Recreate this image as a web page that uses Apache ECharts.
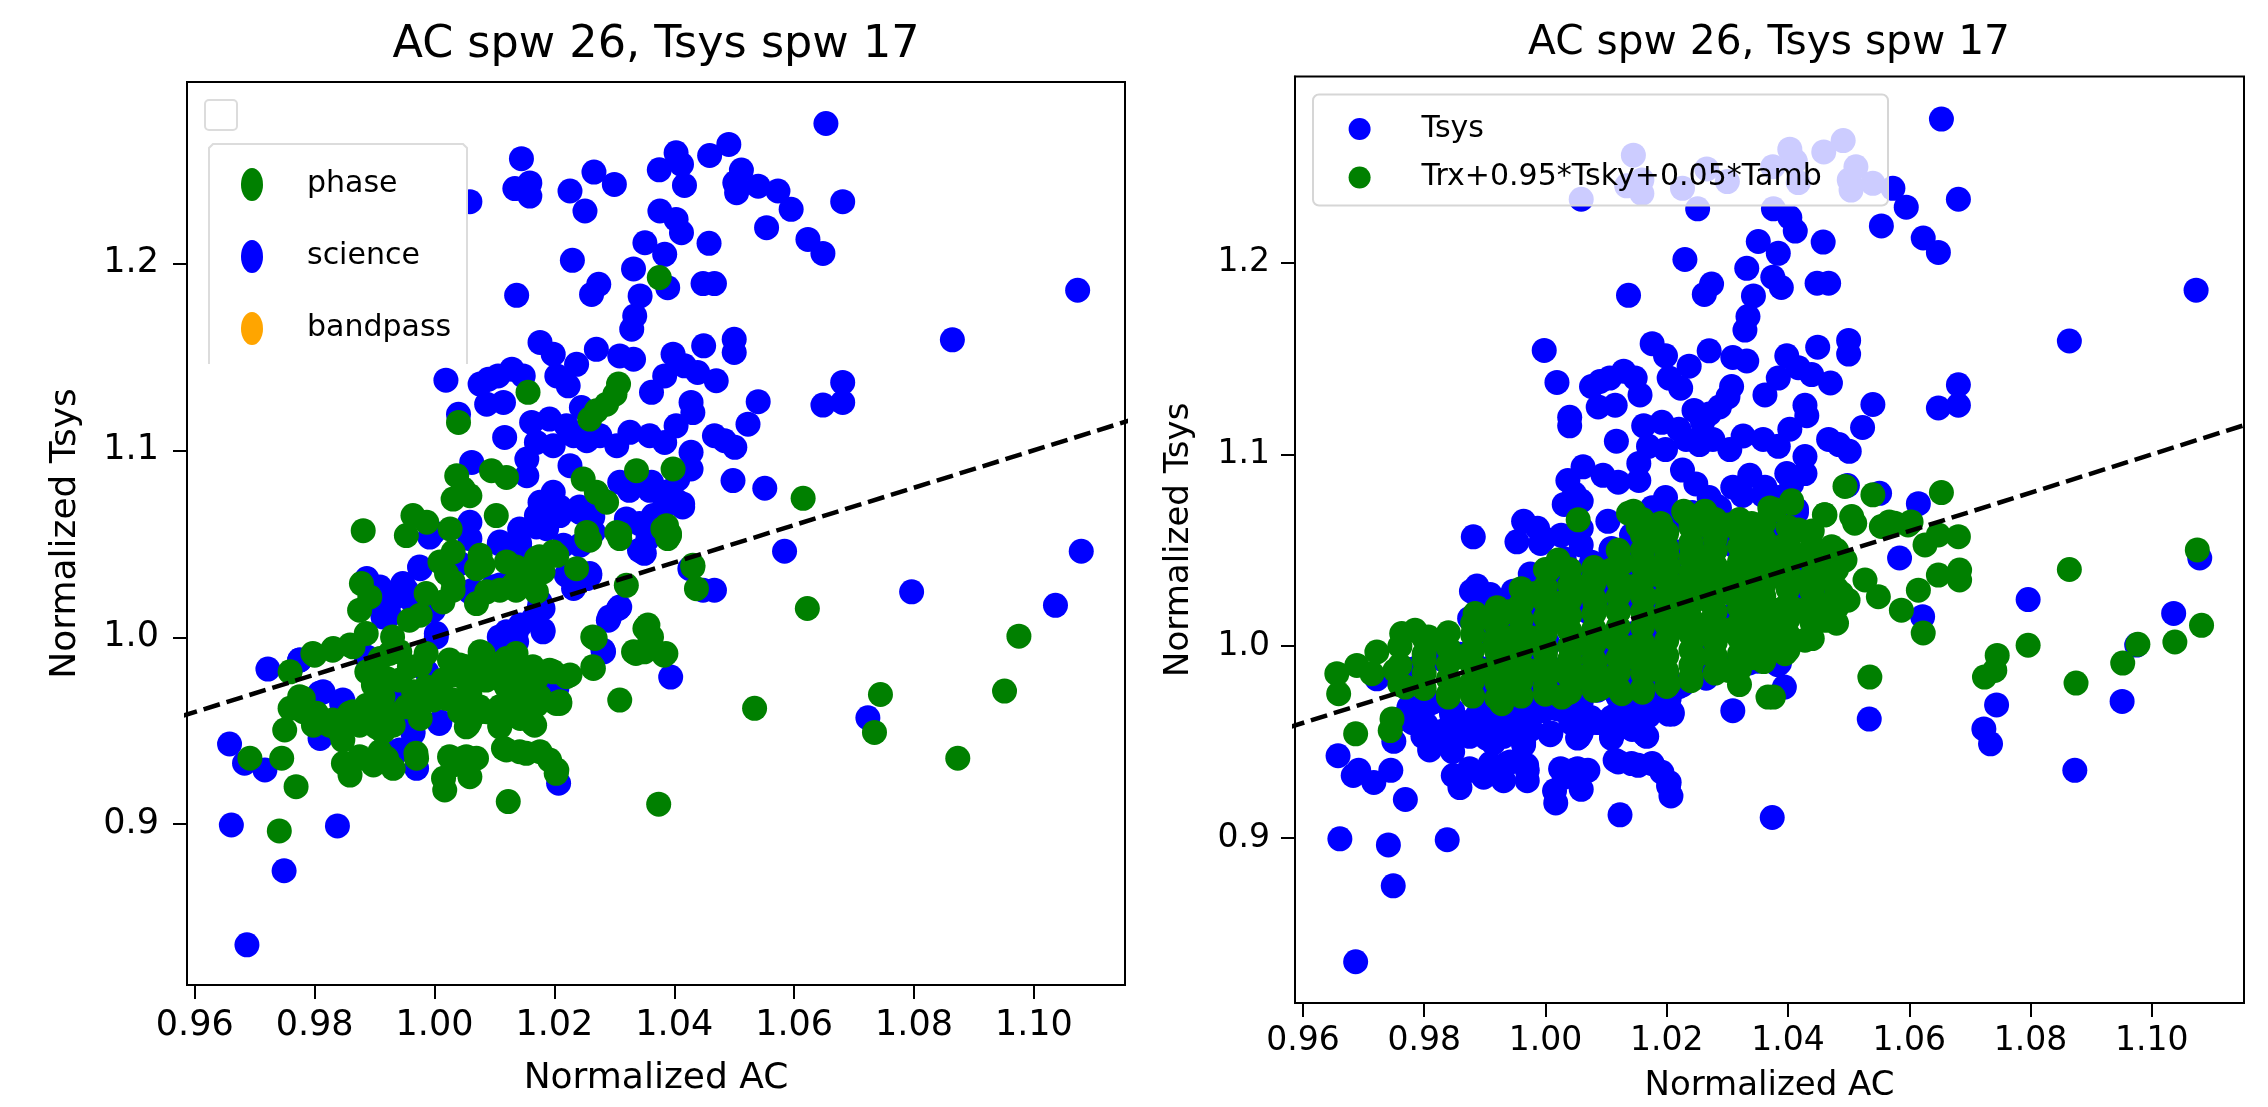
<!DOCTYPE html>
<html><head><meta charset="utf-8">
<script src="https://cdn.jsdelivr.net/npm/echarts@6/dist/echarts.min.js"></script>
<style>html,body{margin:0;padding:0;background:#fff}#c{width:2268px;height:1107px}</style>
</head><body><div id="c"></div>
<script>
const titleText = 'AC spw 26, Tsys spw 17';
const xLabel = 'Normalized AC';
const yLabel = 'Normalized Tsys';
const xTicks = [0.96, 0.98, 1.00, 1.02, 1.04, 1.06, 1.08, 1.10];
const yTicks = [0.9, 1.0, 1.1, 1.2];
const unityLine = [0.95, 1.12];

// left panel: science (blue)
const sciencePts = [
[1.0145,1.2560],[1.0134,1.2400],[1.0159,1.2430],[1.0159,1.2360],[1.0059,1.2330],[1.0226,1.2387],[1.0266,1.2488],[1.0251,1.2280],[1.0300,1.2422],[1.0375,1.2500],[1.0376,1.2280],[1.0351,1.2110],[1.0230,1.2016],[1.0332,1.1970],[1.0274,1.1888],[1.0262,1.1834],[1.0137,1.1829],[1.0343,1.1826],[1.0334,1.1719],[1.0329,1.1648],[1.0176,1.1577],[1.0198,1.1514],[1.0270,1.1540],[1.0309,1.1505],[1.0332,1.1487],[1.0237,1.1460],[1.0204,1.1398],[1.0223,1.1345],[1.0019,1.1375],[1.0076,1.1354],[1.0090,1.1380],[1.0106,1.1398],[1.0129,1.1434],[1.0148,1.1398],[1.0087,1.1247],[1.0115,1.1256],[1.0245,1.1229],[1.0040,1.1193],[1.0117,1.1069],[1.0162,1.1149],[1.0192,1.1167],[1.0220,1.1131],[1.0232,1.1078],[1.0170,1.1042],[1.0198,1.1025],[1.0254,1.1051],[1.0276,1.1078],[1.0304,1.1025],[1.0326,1.1096],[1.0359,1.1078],[1.0154,1.0953],[1.0154,1.0864],[1.0062,1.0935],[1.0226,1.0918],[1.0198,1.0775],[1.0176,1.0722],[1.0209,1.0651],[1.0243,1.0668],[1.0309,1.0829],[1.0320,1.0633],[1.0365,1.0651],[1.0059,1.0615],[0.9998,1.0561],[1.0142,1.0579],[1.0170,1.0651],
[1.0653,1.2748],[1.0491,1.2636],[1.0459,1.2577],[1.0403,1.2591],[1.0412,1.2529],[1.0417,1.2417],[1.0512,1.2499],[1.0501,1.2431],[1.0504,1.2378],[1.0540,1.2413],[1.0573,1.2387],[1.0595,1.2289],[1.0681,1.2330],[1.0403,1.2235],[1.0412,1.2164],[1.0554,1.2191],[1.0623,1.2128],[1.0648,1.2053],[1.0458,1.2107],[1.0384,1.2048],[1.0389,1.1870],[1.0448,1.1892],[1.0467,1.1892],[1.1073,1.1856],[1.0864,1.1591],[1.0449,1.1559],[1.0500,1.1594],[1.0500,1.1523],[1.0398,1.1514],[1.0417,1.1452],[1.0439,1.1416],[1.0470,1.1372],[1.0384,1.1398],[1.0681,1.1363],[1.0681,1.1256],[1.0648,1.1242],[1.0540,1.1260],[1.0362,1.1310],[1.0428,1.1256],[1.0431,1.1202],[1.0523,1.1140],[1.0403,1.1131],[1.0384,1.1042],[1.0467,1.1078],[1.0484,1.1051],[1.0501,1.1016],[1.0428,1.0989],[1.0428,1.0900],[1.0406,1.0846],[1.0498,1.0838],[1.0551,1.0797],[1.0362,1.0829],[1.0384,1.0775],[1.0414,1.0713],[1.0384,1.0704],
[1.0584,1.0460],[1.1079,1.0460],[1.0796,1.0243],[1.1036,1.0171],[1.0723,0.9569],[1.0394,0.9787],[1.0448,1.0252],[1.0467,1.0252],[1.0426,1.0367],[1.0350,1.0449],[1.0356,1.0528],
[0.9687,0.8355],[0.9749,0.8751],[0.9661,0.8996],[0.9838,0.8991],[1.0207,0.9219],[0.9658,0.9429],[0.9683,0.9326],[0.9717,0.9290],[0.9937,0.9388],[0.9970,0.9299],[1.0009,0.9548],[0.9964,0.9495],[0.9809,0.9459],[1.0282,0.9922],[1.0290,1.0091],[1.0307,1.0154],[1.0181,1.0029],[1.0181,1.0154],[1.0254,1.0314],[1.0232,1.0261],[0.9722,0.9830],[0.9775,0.9878],[0.9814,0.9708],[0.9845,0.9646],[0.9887,1.0314],[0.9909,1.0269],[0.9925,1.0118],[0.9931,1.0207],[0.9953,1.0252],[0.9964,1.0189],[0.9976,1.0367],[0.9992,1.0536],[1.0059,1.0528],[1.0109,1.0510],[1.0142,1.0483],[1.0187,1.0581],[1.0243,1.0492],[1.0259,1.0332],[1.0220,1.0332],[0.9948,1.0252],[0.9998,1.0145],[1.0003,1.0002],[1.0059,1.0243],[1.0109,1.0279],[1.0120,1.0029],[1.0137,0.9976],[1.0143,1.0065],[1.0115,0.9940],[0.9987,0.9815],[0.9931,0.9673],[0.9942,0.9548],[0.9914,1.0109],[1.0176,1.0189],[1.0165,1.0100],[1.0204,0.9726],[1.0215,1.0492],[1.0265,1.0563],
[0.9998,1.1542],
[1.0108,1.0501],[1.0142,1.0501],[1.0170,1.0590],[1.0181,1.0661],[1.0209,1.0697],[1.0242,1.0697],[1.0264,1.0643],[1.0281,1.0732],[1.0325,1.0786],[1.0359,1.0786],[1.0403,1.0732],[1.0414,1.0697],[1.0342,1.0608],[1.0342,1.0465],
[0.9975,1.0376],[0.9942,1.0234],[0.9914,1.0127],[0.9947,1.0287],[1.0042,1.0394],[1.0064,1.0252],[1.0097,1.0269],[1.0131,1.0341],[0.9997,1.0145],[1.0003,1.0020],[1.0108,1.0002],[1.0136,1.0020],[1.0175,1.0162],[1.0181,1.0038],[1.0236,1.0305],[1.0259,1.0341],[1.0292,1.0109],[1.0309,1.0162],[1.0281,0.9931],
[0.9808,0.9700],[0.9847,0.9664],[0.9925,0.9664],[0.9964,0.9486],[0.9942,0.9397],[1.0008,0.9539],[0.9775,0.9878],[0.9886,0.9896]
];

// left panel: phase (green)
const phasePts = [
[1.0375,1.1924],[1.0156,1.1310],[1.0307,1.1354],[1.0301,1.1300],[1.0287,1.1247],[1.0270,1.1211],[1.0259,1.1167],[1.0040,1.1149],[1.0037,1.0864],[1.0048,1.0793],[1.0059,1.0757],[1.0031,1.0739],[1.0095,1.0891],[1.0120,1.0855],[1.0248,1.0846],[1.0270,1.0775],[1.0287,1.0722],[1.0337,1.0891],[0.9881,1.0570],[0.9964,1.0651],[0.9987,1.0615],[0.9953,1.0544],[1.0026,1.0579],[1.0103,1.0651],[1.0304,1.0561],[1.0254,1.0561],
[1.0398,1.0900],[1.0615,1.0743],[1.0387,1.0597],[1.0392,1.0544],
[1.0622,1.0154],[1.0975,1.0006],[1.0951,0.9712],[1.0744,0.9694],[1.0734,0.9491],[1.0534,0.9620],[1.0873,0.9353],[1.0374,0.9107],[1.0383,0.9904],[1.0356,1.0065],[1.0362,1.0002],[1.0350,0.9922],[1.0437,1.0260],[1.0431,1.0385],[1.0389,1.0528],[1.0381,1.0581],
[0.9741,0.8964],[1.0123,0.9121],[1.0204,0.9290],[1.0017,0.9183],[1.0059,0.9254],[1.0070,0.9353],[1.0031,0.9317],[1.0048,0.9353],[1.0015,0.9246],[0.9769,0.9201],[0.9692,0.9353],[0.9745,0.9353],[0.9859,0.9263],[0.9848,0.9326],[0.9875,0.9353],[0.9898,0.9317],[0.9920,0.9353],[0.9931,0.9299],[0.9909,0.9388],[0.9970,0.9353],[1.0115,0.9406],[1.0142,0.9388],[1.0176,0.9388],[1.0109,0.9530],[1.0167,0.9530],[1.0209,0.9646],[1.0056,0.9530],[0.9750,0.9504],[0.9759,0.9620],[0.9781,0.9673],[0.9803,0.9566],[0.9825,0.9530],[0.9842,0.9495],[0.9875,0.9530],[0.9898,0.9584],[0.9914,0.9495],[1.0309,0.9664],[1.0265,0.9833],[1.0268,0.9994],[1.0332,0.9922],[1.0351,1.0047],[1.0320,1.0278],[0.9800,0.9904],[0.9831,0.9940],[0.9859,0.9958],[0.9759,0.9815],[0.9878,1.0287],[0.9875,1.0145],[0.9892,1.0216],[1.0009,1.0403],[1.0031,1.0456],[1.0081,1.0385],[1.0120,1.0403],[1.0170,1.0421],[1.0198,1.0456],[1.0254,1.0528],[1.0309,1.0528],
[0.9976,1.0118],[1.0014,1.0189],[1.0031,1.0296],[1.0070,1.0367],[1.0087,1.0243],[1.0131,1.0279],[1.0154,1.0332],[1.0170,1.0243],[1.0181,1.0350],[0.9942,0.9922],[0.9976,0.9851],[1.0009,0.9744],[1.0031,0.9798],[1.0059,0.9709],[1.0087,0.9833],[1.0115,0.9762],[1.0143,0.9833],[1.0170,0.9780],[1.0198,0.9815],[1.0226,0.9798],[1.0209,0.9655],[1.0170,0.9637],[1.0143,0.9673],[1.0115,0.9637],[1.0087,0.9602],[1.0059,0.9548],[0.9987,0.9673],[0.9965,0.9709],[0.9920,0.9780],[0.9898,0.9744],[0.9887,0.9637],[0.9864,0.9602],[0.9820,0.9548],[0.9798,0.9530],[0.9781,0.9602],[0.9920,0.9602],[0.9931,0.9530],[0.9976,0.9566],[1.0143,0.9566],[1.0076,0.9602],[1.0042,0.9602],[1.0020,0.9673],[1.0042,0.9851],[1.0076,0.9922],[1.0120,0.9886],[0.9909,0.9886],[0.9887,0.9815],[1.0237,1.0367],[1.0204,1.0438],[1.0076,1.0438],
[1.0020,1.0341],[0.9986,1.0234],[1.0031,1.0252],[1.0136,1.0376],[1.0175,1.0430],[1.0109,1.0252],[1.0136,1.0252],[1.0070,1.0180],[0.9958,1.0091],[0.9930,1.0002],
[0.9797,0.9913],[0.9830,0.9931],[0.9864,0.9949],[0.9886,1.0020],[0.9925,0.9913],[0.9958,0.9842],[0.9986,0.9913],[1.0025,0.9878],[1.0053,0.9842],[1.0081,0.9913],[1.0109,0.9860],[1.0136,0.9913],[1.0164,0.9842],[1.0192,0.9824],[1.0220,0.9789],[1.0264,0.9842],[1.0264,1.0002],[1.0353,1.0056],[1.0336,0.9913],[1.0386,0.9913],[1.0359,1.0002],[1.0392,1.0554],[1.0309,1.0554],[1.0431,1.0376],[1.0259,1.0519],
[0.9942,0.9771],[0.9986,0.9735],[1.0014,0.9771],[1.0053,0.9771],[1.0086,0.9771],[1.0120,0.9735],[1.0153,0.9771],[0.9914,0.9682],[0.9953,0.9628],[0.9997,0.9664],[1.0031,0.9664],[1.0075,0.9628],[1.0109,0.9628],[1.0142,0.9664],[1.0175,0.9682],[1.0203,0.9646],[1.0053,0.9521],[1.0109,0.9521],[1.0164,0.9539],
[0.9775,0.9682],[0.9803,0.9593],[0.9830,0.9557],[0.9858,0.9593],[0.9886,0.9611],[0.9903,0.9521],[0.9847,0.9450],[0.9875,0.9361],[0.9914,0.9343],[0.9969,0.9379],[1.0025,0.9361],[1.0053,0.9361],[1.0120,0.9397],[1.0153,0.9379],[1.0192,0.9343],[1.0203,0.9272]
];

const bandpassPts = [];

// right panel: model Trx+0.95*Tsky+0.05*Tamb (green)
const modelPts = [
[1.0494,1.0833],[1.0540,1.0789],[1.0653,1.0801],[1.0461,1.0685],[1.0505,1.0676],[1.0510,1.0641],[1.0554,1.0624],[1.0576,1.0641],[1.0598,1.0632],[1.0626,1.0528],[1.0648,1.0580],[1.0681,1.0571],[1.0648,1.0371],[1.0683,1.0397],[1.0683,1.0345],[1.0615,1.0292],[1.0587,1.0188],[1.0623,1.0069],[1.0549,1.0258],[1.0527,1.0345],[1.0499,1.0240],[1.0461,1.0135],[1.0428,1.0031],[1.0395,0.9961],[1.0376,0.9735],[1.0535,0.9839],[1.0864,1.0400],[1.1075,1.0502],[1.1082,1.0109],[1.1038,1.0022],[1.0977,1.0010],[1.0952,0.9912],[1.0875,0.9808],[1.0796,1.0005],[1.0745,0.9952],[1.0724,0.9839],[1.0741,0.9874],
[1.0378,1.0711],[1.0406,1.0746],[1.0417,1.0606],[1.0389,1.0519],[1.0433,1.0484],[1.0472,1.0519],[1.0494,1.0449],[1.0395,1.0345],[1.0433,1.0345],[1.0472,1.0345],[1.0384,1.0188],[1.0417,1.0188],[1.0450,1.0223],[1.0395,1.0083],[1.0373,1.0048],[1.0461,1.0414],[1.0488,1.0275],
[1.0145,1.0703],[1.0228,1.0703],[1.0263,1.0703],[1.0370,1.0721],[1.0406,1.0758],[1.0460,1.0685],[1.0567,1.0648],[1.0603,1.0648],
[0.9656,0.9857],[0.9659,0.9752],[0.9689,0.9900],[0.9722,0.9970],[0.9687,0.9543],[0.9747,0.9621],[0.9744,0.9560],[0.9763,1.0066],[0.9785,1.0083],[0.9807,1.0048],[0.9829,1.0031],[0.9714,0.9857],[0.9752,0.9874],[0.9769,0.9787],[0.9840,0.9735],[0.9873,0.9787],[0.9928,0.9700],[0.9895,0.9874],[0.9884,1.0170],[0.9917,1.0118],[0.9961,1.0223],[0.9983,1.0275],[1.0005,1.0397],[1.0021,1.0449],[1.0054,1.0659],[1.0137,1.0693],[1.0153,1.0624],[1.0181,1.0554],[1.0230,1.0693],[1.0263,1.0702],[1.0302,1.0632],[1.0241,1.0519],[1.0345,1.0554],[1.0368,1.0432],[1.0126,1.0432],[1.0164,1.0432],[1.0203,1.0414],[1.0000,0.9787],[1.0027,0.9735],[1.0065,0.9839],[1.0126,0.9752],[1.0203,0.9804],[1.0247,0.9944],[1.0367,0.9735],[1.0302,0.9874],
[0.9972,1.0048],[1.0027,1.0135],[1.0082,1.0223],[1.0137,1.0310],[1.0192,1.0362],[1.0247,1.0397],[1.0302,1.0362],[1.0356,1.0310],[0.9945,0.9961],[1.0000,0.9961],[1.0054,1.0013],[1.0109,1.0048],[1.0164,1.0135],[1.0219,1.0188],[1.0274,1.0223],[1.0329,1.0223],[1.0373,1.0170],[0.9972,0.9874],[1.0027,0.9874],[1.0082,0.9909],[1.0137,0.9944],[1.0192,0.9979],[1.0247,1.0048],[1.0302,1.0083],[1.0356,1.0083],[1.0054,1.0310],[1.0109,1.0397],[1.0164,1.0258],[1.0219,1.0310],[1.0274,1.0310],[1.0329,1.0397],[0.9862,0.9944],[0.9917,1.0013],[1.0082,0.9787],[1.0164,0.9874],[1.0274,1.0135],[1.0346,1.0013],
[1.0200,1.0480],[1.0280,1.0560],[1.0330,1.0480],[1.0190,1.0640],[1.0270,1.0620],[1.0340,1.0640],[0.9950,1.0050],[1.0040,1.0080],[1.0150,1.0000],[1.0220,1.0100],[1.0330,1.0120],[0.9850,0.9950],[0.9930,0.9900],[1.0040,0.9930],[1.0100,0.9830],[1.0180,0.9880],[1.0280,0.9950],[1.0340,0.9940],[0.9940,1.0180],[1.0030,1.0230],[1.0120,1.0180],[1.0200,1.0250],[1.0300,1.0280],[1.0360,1.0260],[1.0080,1.0360],[1.0180,1.0400],[1.0250,1.0450],[1.0320,1.0420],[1.0400,1.0440],[0.9800,0.9930],[0.9950,0.9800],[1.0090,0.9780],[1.0160,0.9760],[1.0240,0.9840],[1.0320,0.9800],
[0.9760,0.9800],[0.9760,0.9900],[0.9760,1.0000],
[0.9800,0.9780],[0.9800,0.9860],[0.9800,0.9960],[0.9800,1.0040],
[0.9840,0.9750],[0.9840,0.9830],[0.9840,0.9910],[0.9840,0.9990],[0.9840,1.0070],
[0.9880,0.9740],[0.9880,0.9820],[0.9880,0.9900],[0.9880,0.9980],[0.9880,1.0060],[0.9880,1.0120],
[0.9920,0.9730],[0.9920,0.9810],[0.9920,0.9890],[0.9920,0.9970],[0.9920,1.0050],[0.9920,1.0130],[0.9920,1.0200],
[0.9960,0.9740],[0.9960,0.9820],[0.9960,0.9900],[0.9960,0.9980],[0.9960,1.0060],[0.9960,1.0140],[0.9960,1.0220],[0.9960,1.0300],
[1.0000,0.9750],[1.0000,0.9830],[1.0000,0.9910],[1.0000,0.9990],[1.0000,1.0070],[1.0000,1.0150],[1.0000,1.0230],[1.0000,1.0310],[1.0000,1.0400],
[1.0040,0.9760],[1.0040,0.9840],[1.0040,0.9920],[1.0040,1.0000],[1.0040,1.0080],[1.0040,1.0160],[1.0040,1.0240],[1.0040,1.0320],[1.0040,1.0400],
[1.0080,0.9770],[1.0080,0.9850],[1.0080,0.9930],[1.0080,1.0010],[1.0080,1.0090],[1.0080,1.0170],[1.0080,1.0250],[1.0080,1.0330],[1.0080,1.0410],
[1.0120,0.9780],[1.0120,0.9860],[1.0120,0.9940],[1.0120,1.0020],[1.0120,1.0100],[1.0120,1.0180],[1.0120,1.0260],[1.0120,1.0340],[1.0120,1.0420],[1.0120,1.0500],
[1.0160,0.9780],[1.0160,0.9860],[1.0160,0.9940],[1.0160,1.0020],[1.0160,1.0100],[1.0160,1.0180],[1.0160,1.0260],[1.0160,1.0340],[1.0160,1.0420],[1.0160,1.0500],[1.0160,1.0580],[1.0160,1.0660],
[1.0200,0.9790],[1.0200,0.9870],[1.0200,0.9950],[1.0200,1.0030],[1.0200,1.0110],[1.0200,1.0190],[1.0200,1.0270],[1.0200,1.0350],[1.0200,1.0430],[1.0200,1.0510],[1.0200,1.0590],
[1.0240,0.9820],[1.0240,0.9900],[1.0240,0.9980],[1.0240,1.0060],[1.0240,1.0140],[1.0240,1.0220],[1.0240,1.0300],[1.0240,1.0380],[1.0240,1.0460],[1.0240,1.0540],[1.0240,1.0620],[1.0240,1.0680],
[1.0280,0.9860],[1.0280,0.9940],[1.0280,1.0020],[1.0280,1.0100],[1.0280,1.0180],[1.0280,1.0260],[1.0280,1.0340],[1.0280,1.0420],[1.0280,1.0500],[1.0280,1.0580],[1.0280,1.0660],
[1.0320,0.9880],[1.0320,0.9960],[1.0320,1.0040],[1.0320,1.0120],[1.0320,1.0200],[1.0320,1.0280],[1.0320,1.0360],[1.0320,1.0440],[1.0320,1.0520],[1.0320,1.0600],[1.0320,1.0660],
[1.0360,0.9920],[1.0360,1.0000],[1.0360,1.0080],[1.0360,1.0160],[1.0360,1.0240],[1.0360,1.0320],[1.0360,1.0400],[1.0360,1.0480],[1.0360,1.0560],[1.0360,1.0640],
[1.0400,0.9980],[1.0400,1.0060],[1.0400,1.0140],[1.0400,1.0220],[1.0400,1.0300],[1.0400,1.0380],[1.0400,1.0460],[1.0400,1.0540],[1.0400,1.0620],
[1.0440,1.0040],[1.0440,1.0120],[1.0440,1.0200],[1.0440,1.0280],[1.0440,1.0360],[1.0440,1.0440],[1.0440,1.0520],[1.0440,1.0600],
[1.0480,1.0120],[1.0480,1.0200],[1.0480,1.0300],[1.0480,1.0400],[1.0480,1.0500]
];

const FONT = 'DejaVu Sans';
const ellipseIcon = 'path://M11,0 A11,16.5 0 1,1 11,33 A11,16.5 0 1,1 11,0 Z';
const xRange = [0.9587, 1.1152];
const yRange = [0.8140, 1.2970];

function mkX(gi, fs, lfs, margin, nameGap) {
  return {
    type: 'value', gridIndex: gi, min: xRange[0], max: xRange[1],
    name: xLabel, nameLocation: 'middle', nameGap: nameGap,
    nameTextStyle: {fontFamily: FONT, fontSize: lfs, color: '#000'},
    axisLine: {show: true, onZero: false, lineStyle: {color: '#000', width: 2}},
    axisTick: {show: true, inside: false, length: 14, lineStyle: {color: '#000', width: 2}, customValues: xTicks},
    axisLabel: {show: true, customValues: xTicks, formatter: v => Number(v).toFixed(2), fontFamily: FONT, fontSize: fs, color: '#000', margin: margin},
    splitLine: {show: false}
  };
}
function mkY(gi, fs, lfs, margin, nameGap) {
  return {
    type: 'value', gridIndex: gi, min: yRange[0], max: yRange[1],
    name: yLabel, nameLocation: 'middle', nameGap: nameGap, nameRotate: 90,
    nameTextStyle: {fontFamily: FONT, fontSize: lfs, color: '#000'},
    axisLine: {show: true, onZero: false, lineStyle: {color: '#000', width: 2}},
    axisTick: {show: true, inside: false, length: 14, lineStyle: {color: '#000', width: 2}, customValues: yTicks},
    axisLabel: {show: true, customValues: yTicks, formatter: v => Number(v).toFixed(1), fontFamily: FONT, fontSize: fs, color: '#000', margin: margin},
    splitLine: {show: false}
  };
}
function scatter(name, pts, color, xi, yi) {
  return {type: 'scatter', name: name, data: pts, xAxisIndex: xi, yAxisIndex: yi,
    symbol: 'circle', symbolSize: 25, itemStyle: {color: color, opacity: 1},
    emphasis: {disabled: true}, silent: true, z: 2};
}
function unity(xi, yi) {
  return {type: 'line', name: '_unity', data: unityLine.map(v => [v, v]), xAxisIndex: xi, yAxisIndex: yi,
    symbol: 'none', clip: true, silent: true, z: 5,
    lineStyle: {color: '#000', width: 4.5, type: [17, 7]}};
}

const allPts = sciencePts.concat(phasePts);

const chart = echarts.init(document.getElementById('c'), null, {renderer: 'canvas'});
chart.setOption({
  animation: false,
  backgroundColor: '#fff',
  grid: [
    {left: 187, top: 82, width: 938, height: 903, show: true, borderColor: '#000', borderWidth: 2, outerBoundsMode: 'none', containLabel: false},
    {left: 1295, top: 76.5, width: 949, height: 926.5, show: true, borderColor: '#000', borderWidth: 2, outerBoundsMode: 'none', containLabel: false}
  ],
  xAxis: [mkX(0, 35, 36, 23, 76), mkX(1, 33, 34, 22, 66)],
  yAxis: [mkY(0, 35, 36, 28, 103), mkY(1, 33, 34, 25, 99)],
  legend: [
    {show: true, orient: 'vertical', left: 241, top: 168, padding: 0, itemWidth: 22, itemHeight: 33, itemGap: 39,
     selectedMode: false, z: 20, backgroundColor: 'transparent',
     textStyle: {fontFamily: FONT, fontSize: 30, color: '#000', padding: [0, 0, 0, 39]},
     data: [{name: 'phase', icon: ellipseIcon}, {name: 'science', icon: ellipseIcon}, {name: 'bandpass', icon: ellipseIcon}]},
    {show: true, orient: 'vertical', left: 1348.6, top: 114, padding: 0, itemWidth: 22, itemHeight: 22, itemGap: 18.5,
     selectedMode: false, z: 20, backgroundColor: 'transparent',
     textStyle: {fontFamily: FONT, fontSize: 30, color: '#000', padding: [0, 0, 0, 46]},
     data: [{name: 'Tsys', icon: 'circle'}, {name: 'Trx+0.95*Tsky+0.05*Tamb', icon: 'circle'}]}
  ],
  graphic: [
    {type: 'text', x: 656, y: 45, z: 30, style: {text: titleText, fontFamily: FONT, fontSize: 44.5, fill: '#000', align: 'center', verticalAlign: 'middle'}},
    {type: 'text', x: 1769, y: 43, z: 30, style: {text: titleText, fontFamily: FONT, fontSize: 40.7, fill: '#000', align: 'center', verticalAlign: 'middle'}},
    {type: 'rect', z: 10, shape: {x: 205, y: 100, width: 32, height: 30, r: 4}, style: {fill: '#fff', stroke: '#dcdcdc', lineWidth: 2}},
    {type: 'rect', z: 10, shape: {x: 209, y: 144, width: 258, height: 220}, style: {fill: '#fff'}},
    {type: 'polyline', z: 11, shape: {points: [[209, 364], [209, 148], [213, 144], [463, 144], [467, 148], [467, 364]]}, style: {fill: null, stroke: '#dcdcdc', lineWidth: 2}},
    {type: 'rect', z: 10, shape: {x: 1313, y: 94.5, width: 575, height: 111, r: 6}, style: {fill: 'rgba(255,255,255,0.8)', stroke: '#d6d6d6', lineWidth: 2}}
  ],
  series: [
    scatter('science', sciencePts, '#0000ff', 0, 0),
    scatter('phase', phasePts, '#008000', 0, 0),
    scatter('bandpass', bandpassPts, '#ffa500', 0, 0),
    unity(0, 0),
    scatter('Tsys', allPts, '#0000ff', 1, 1),
    scatter('Trx+0.95*Tsky+0.05*Tamb', modelPts, '#008000', 1, 1),
    unity(1, 1)
  ]
});
</script>
</body></html>
